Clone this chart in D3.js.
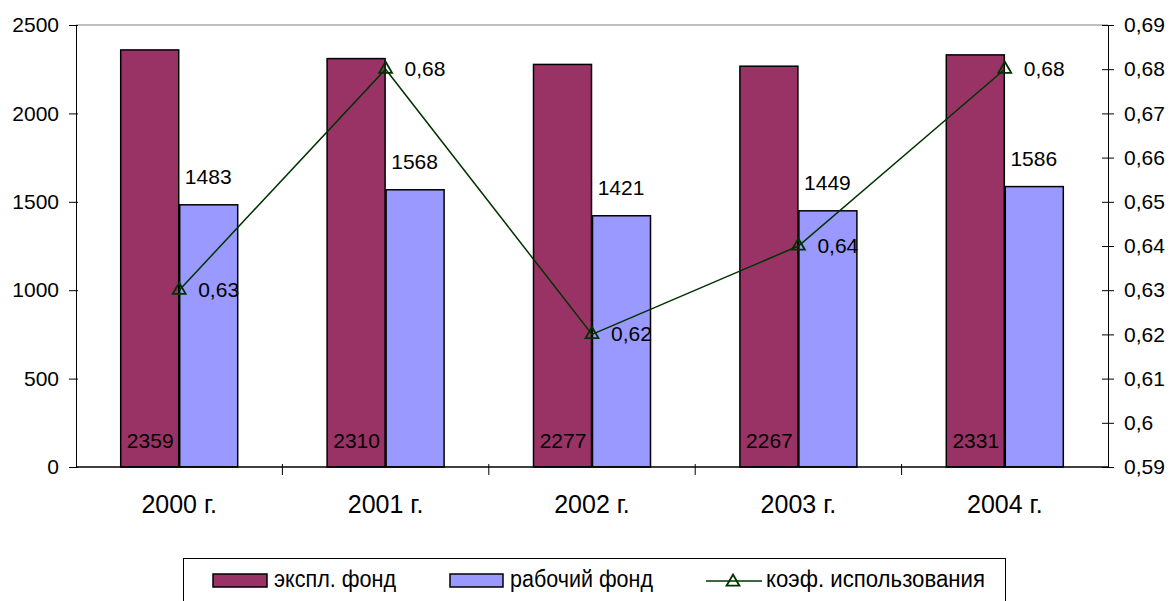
<!DOCTYPE html>
<html>
<head>
<meta charset="utf-8">
<script src="https://cdn.jsdelivr.net/npm/d3@7"></script>
<style>
  body { margin: 0; background: #fff; }
  text { font-family: "Liberation Sans", Arial, sans-serif; fill: #000; }
</style>
</head>
<body>
<svg id="chart" width="1170" height="601"></svg>
<script>
// данные
const years = ["2000 г.", "2001 г.", "2002 г.", "2003 г.", "2004 г."]
const eksplFond = [2359, 2310, 2277, 2267, 2331]
const rabochiyFond = [1483, 1568, 1421, 1449, 1586]
const koef = [0.63, 0.68, 0.62, 0.64, 0.68]
const leftTicks = [0, 500, 1000, 1500, 2000, 2500]
const rightTicks = [0.59, 0.6, 0.61, 0.62, 0.63, 0.64, 0.65, 0.66, 0.67, 0.68, 0.69]

const svg = d3.select('#chart')
const pLeft = 76, pRight = 1108, pTop = 25, pBottom = 467

const x = d3.scaleBand().domain(years).range([pLeft, pRight]).paddingInner(0).paddingOuter(0)
const y = d3.scaleLinear().domain([0, 2500]).range([pBottom, pTop])
const y2 = d3.scaleLinear().domain([0.59, 0.69]).range([pBottom, pTop])
const barW = 58

const fmt = d => String(d).replace('.', ',')
const font = '"Liberation Sans", Arial, sans-serif'

// верхняя граница области
svg.append('line')
    .attr('x1', pLeft).attr('x2', pRight)
    .attr('y1', pTop).attr('y2', pTop)
    .attr('stroke', '#808080').attr('stroke-width', 1)

// левая ось
const gl = svg.append('g')
    .attr('transform', `translate(${pLeft},0)`)
    .call(d3.axisLeft(y).tickValues(leftTicks).tickFormat(d3.format('d')).tickSize(7).tickSizeOuter(0))
gl.select('.domain').attr('stroke', '#000')
gl.selectAll('.tick line').attr('stroke', '#000').attr('x2', -7).attr('x1', 2)
gl.selectAll('.tick text').attr('x', -17).attr('font-size', 21).attr('font-family', font)

// правая ось
const gr = svg.append('g')
    .attr('transform', `translate(${pRight},0)`)
    .call(d3.axisRight(y2).tickValues(rightTicks).tickFormat(fmt).tickSize(6).tickSizeOuter(0))
gr.select('.domain').attr('stroke', '#000')
gr.selectAll('.tick line').attr('stroke', '#000').attr('x1', -6).attr('x2', 6)
gr.selectAll('.tick text').attr('x', 16).attr('font-size', 21).attr('font-family', font)

// столбцы
const groups = svg.append('g').selectAll('g')
    .data(years)
    .join('g')
    .attr('transform', d => `translate(${x(d) + x.bandwidth() / 2},0)`)

groups.append('rect')
    .attr('x', -barW - 0.5)
    .attr('y', (d, i) => y(eksplFond[i]))
    .attr('width', barW)
    .attr('height', (d, i) => pBottom - y(eksplFond[i]))
    .attr('fill', '#993366')
    .attr('stroke', '#000').attr('stroke-width', 1.5)

groups.append('rect')
    .attr('x', 0.5)
    .attr('y', (d, i) => y(rabochiyFond[i]))
    .attr('width', barW)
    .attr('height', (d, i) => pBottom - y(rabochiyFond[i]))
    .attr('fill', '#9999ff')
    .attr('stroke', '#000').attr('stroke-width', 1.5)

groups.append('text')
    .attr('x', -barW / 2)
    .attr('y', 448)
    .attr('text-anchor', 'middle')
    .attr('font-size', 21)
    .text((d, i) => eksplFond[i])

groups.append('text')
    .attr('x', barW / 2)
    .attr('y', (d, i) => y(rabochiyFond[i]) - 21)
    .attr('text-anchor', 'middle')
    .attr('font-size', 21)
    .text((d, i) => rabochiyFond[i])

// ось X
svg.append('line')
    .attr('x1', pLeft).attr('x2', pRight)
    .attr('y1', pBottom).attr('y2', pBottom)
    .attr('stroke', '#000').attr('stroke-width', 1.5)

svg.append('g').selectAll('line')
    .data(years.slice(1))
    .join('line')
    .attr('x1', d => x(d)).attr('x2', d => x(d))
    .attr('y1', pBottom - 3).attr('y2', pBottom + 8)
    .attr('stroke', '#000')

svg.append('g').selectAll('text')
    .data(years)
    .join('text')
    .attr('x', d => x(d) + x.bandwidth() / 2)
    .attr('y', 513)
    .attr('text-anchor', 'middle')
    .attr('font-size', 25)
    .text(d => d)

// линия коэффициента
const pts = years.map((d, i) => [x(d) + x.bandwidth() / 2, y2(koef[i])])
svg.append('path')
    .attr('d', d3.line()(pts))
    .attr('fill', 'none')
    .attr('stroke', '#003300').attr('stroke-width', 1.5)

const tri = d3.symbol().type(d3.symbolTriangle).size(72)
svg.append('g').selectAll('path')
    .data(pts)
    .join('path')
    .attr('d', tri)
    .attr('transform', d => `translate(${d[0]},${d[1]})`)
    .attr('fill', 'none')
    .attr('stroke', '#003300').attr('stroke-width', 1.8)

svg.append('g').selectAll('text')
    .data(pts)
    .join('text')
    .attr('x', d => d[0] + 19)
    .attr('y', d => d[1] + 7)
    .attr('font-size', 21)
    .text((d, i) => fmt(koef[i]))

// легенда
const lg = svg.append('g')
lg.append('rect')
    .attr('x', 183.5).attr('y', 558.5)
    .attr('width', 822).attr('height', 60)
    .attr('fill', '#fff').attr('stroke', '#000')

lg.append('rect').attr('x', 213).attr('y', 574).attr('width', 54).attr('height', 13)
    .attr('fill', '#993366').attr('stroke', '#000').attr('stroke-width', 1.5)
lg.append('text').attr('x', 274).attr('y', 587).attr('font-size', 23)
    .attr('textLength', 122).attr('lengthAdjust', 'spacingAndGlyphs').text('экспл. фонд')

lg.append('rect').attr('x', 450).attr('y', 574).attr('width', 53).attr('height', 13)
    .attr('fill', '#9999ff').attr('stroke', '#000').attr('stroke-width', 1.5)
lg.append('text').attr('x', 510).attr('y', 587).attr('font-size', 23)
    .attr('textLength', 143).attr('lengthAdjust', 'spacingAndGlyphs').text('рабочий фонд')

lg.append('line').attr('x1', 706).attr('x2', 762).attr('y1', 581).attr('y2', 581)
    .attr('stroke', '#003300').attr('stroke-width', 1.5)
lg.append('path').attr('d', tri).attr('transform', 'translate(733,582)')
    .attr('fill', 'none').attr('stroke', '#003300').attr('stroke-width', 1.8)
lg.append('text').attr('x', 766).attr('y', 587).attr('font-size', 23)
    .attr('textLength', 219).attr('lengthAdjust', 'spacingAndGlyphs').text('коэф. использования')
</script>
</body>
</html>
